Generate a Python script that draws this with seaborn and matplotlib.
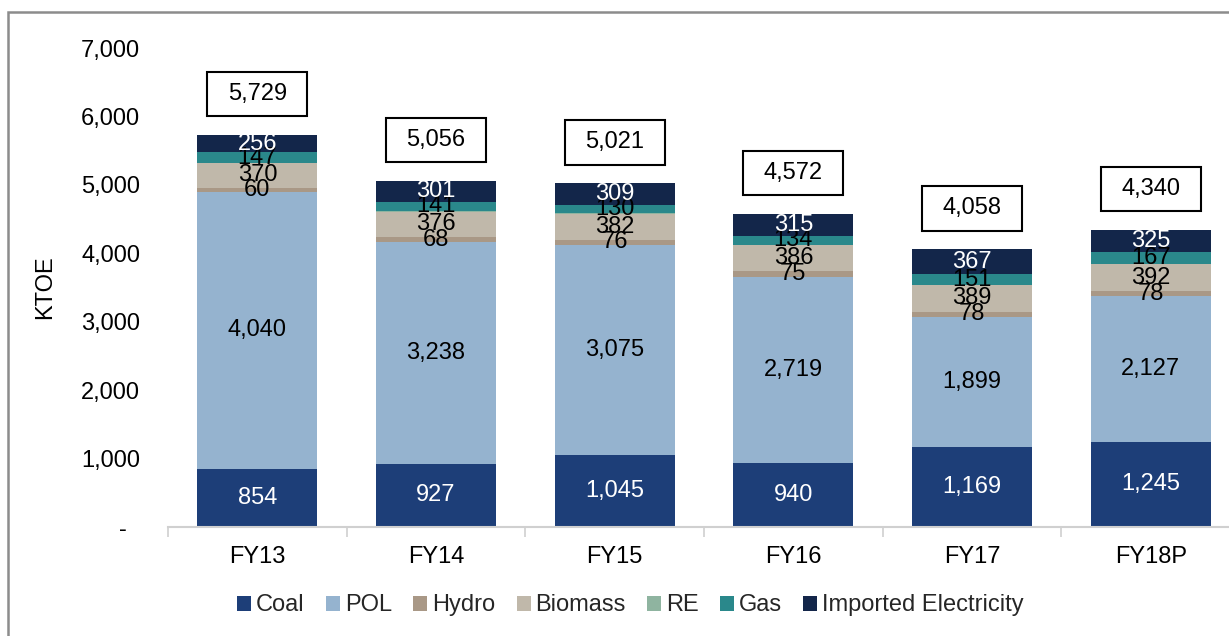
import numpy as np
import pandas as pd
import matplotlib
matplotlib.use("Agg")
import matplotlib.pyplot as plt
from matplotlib.patches import Rectangle, Patch
import seaborn as sns

years = ["FY13", "FY14", "FY15", "FY16", "FY17", "FY18P"]
coal = [854, 927, 1045, 940, 1169, 1245]
pol = [4040, 3238, 3075, 2719, 1899, 2127]
hydro = [60, 68, 76, 75, 78, 78]
biomass = [370, 376, 382, 386, 389, 392]
re = [2, 5, 4, 3, 5, 6]
gas = [147, 141, 130, 134, 151, 167]
imported = [256, 301, 309, 315, 367, 325]
totals = [5729, 5056, 5021, 4572, 4058, 4340]

series_names = ["Coal", "POL", "Hydro", "Biomass", "RE", "Gas", "Imported Electricity"]
series_vals = [coal, pol, hydro, biomass, re, gas, imported]
colors = ["#1d3e78", "#95b3cf", "#a99886", "#c0b8aa", "#8fb4a0", "#2a888b", "#13264a"]
label_colors = ["white", "black", "black", "black", None, "black", "white"]
yticks = [0, 1000, 2000, 3000, 4000, 5000, 6000, 7000]

sns.set_theme(style="white")
plt.rcParams["font.family"] = ["Liberation Sans", "DejaVu Sans"]
FS = 17

fig = plt.figure(figsize=(12.29, 6.36), dpi=100)
W, H = 1229, 636
ax = fig.add_axes([168 / W, (H - 527) / H, 1072 / W, 479 / H])

df = pd.DataFrame({n: v for n, v in zip(series_names, series_vals)}, index=years)
cum = df.cumsum(axis=1)

# draw cumulative bars from top layer down so lower layers overlay
for name, col in reversed(list(zip(series_names, colors))):
    d = pd.DataFrame({"year": years, "val": cum[name].values})
    sns.barplot(data=d, x="year", y="val", order=years, color=col, width=0.67,
                saturation=1, linewidth=0, ax=ax)

# segment labels
for j, (name, lc) in enumerate(zip(series_names, label_colors)):
    if lc is None:
        continue
    for i, y in enumerate(years):
        v = df.loc[y, name]
        top = cum.loc[y, name]
        ax.text(i, top - v / 2, f"{v:,}", ha="center", va="center",
                fontsize=FS, color=lc)

# total boxes
box_w, box_h, box_off = 0.56, 655, 600
for i, t in enumerate(totals):
    cy = t + box_off
    ax.add_patch(Rectangle((i - box_w / 2, cy - box_h / 2), box_w, box_h,
                           facecolor="white", edgecolor="black", linewidth=1.5,
                           zorder=5, clip_on=False))
    ax.text(i, cy, f"{t:,}", ha="center", va="center", fontsize=FS,
            color="black", zorder=6)

ax.set_ylim(0, 7000)
ax.set_xlim(-0.5, len(years) - 0.5)
ax.set_yticks(yticks)
ax.set_yticklabels([f"{v:,}" if v else "-  " for v in yticks], fontsize=FS)
ax.set_xticks(range(len(years)))
ax.set_xticklabels(years, fontsize=FS)
ax.set_xticks(np.arange(-0.5, len(years), 1.0), minor=True)
ax.tick_params(axis="x", which="major", length=0, pad=14, colors="black")
ax.tick_params(axis="x", which="minor", length=7, width=1.2, color="#d0d0d0",
               direction="out", bottom=True)
ax.tick_params(axis="y", length=0, pad=20, colors="black")
ax.set_xlabel("")
ax.set_ylabel("KTOE", fontsize=FS, labelpad=18, color="black")
for s in ["top", "right", "left"]:
    ax.spines[s].set_visible(False)
ax.spines["bottom"].set_color("#d0d0d0")
ax.spines["bottom"].set_linewidth(1.5)
ax.grid(False)

handles = [Patch(facecolor=c, edgecolor="none") for c in colors]
fig.legend(handles, series_names, loc="center", bbox_to_anchor=(0.513, 0.048),
           ncol=7, frameon=False, fontsize=FS, handlelength=0.6, handleheight=0.6,
           handletextpad=0.2, columnspacing=0.9)

# outer frame (cropped)
fig.add_artist(Rectangle((8 / W, -0.2), 2, (H - 12) / H + 0.2, transform=fig.transFigure,
                         fill=False, edgecolor="#8c8c8c", linewidth=1.8))

fig.savefig("out.png", dpi=100)
